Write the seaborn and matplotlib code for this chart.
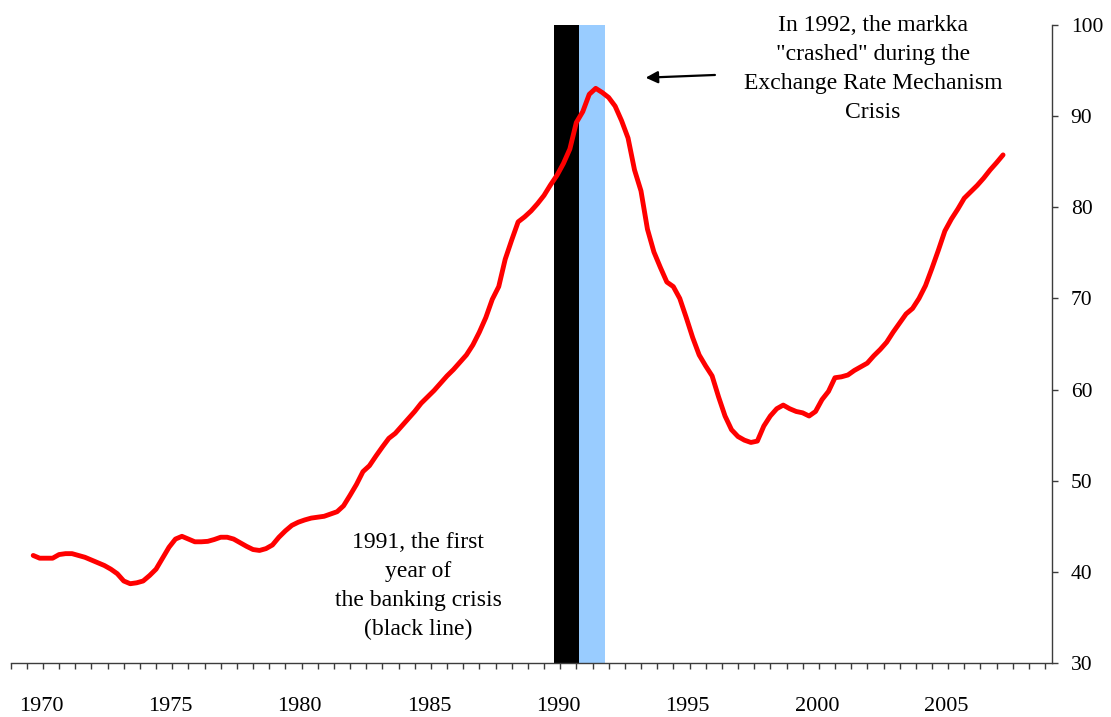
import numpy as np
import pandas as pd
import matplotlib
matplotlib.use("Agg")
import matplotlib.pyplot as plt
import seaborn as sns

# quarterly index values (first point just before the 1970 label)
first_quarter = 1969.7
index_values = [
    41.8, 41.5, 41.5, 41.5, 41.9, 42.0, 42.0, 41.8, 41.6, 41.3,
    41.0, 40.7, 40.3, 39.8, 39.0, 38.7, 38.8, 39.0, 39.6, 40.3,
    41.5, 42.7, 43.6, 43.9, 43.6, 43.3, 43.3, 43.35, 43.55, 43.8,
    43.8, 43.6, 43.2, 42.8, 42.45, 42.35, 42.55, 42.95, 43.8, 44.5,
    45.1, 45.45, 45.7, 45.9, 46.0, 46.1, 46.35, 46.6, 47.25, 48.4,
    49.6, 51.0, 51.65, 52.7, 53.7, 54.65, 55.2, 56.0, 56.8, 57.6,
    58.5, 59.2, 59.9, 60.7, 61.5, 62.2, 63.0, 63.8, 64.9, 66.3,
    67.9, 69.9, 71.3, 74.3, 76.4, 78.4, 78.95, 79.6, 80.4, 81.3,
    82.45, 83.5, 84.8, 86.4, 89.3, 90.5, 92.4, 93.05, 92.6, 92.05,
    91.1, 89.5, 87.6, 84.1, 81.8, 77.6, 75.1, 73.4, 71.8, 71.3,
    70.0, 67.9, 65.7, 63.8, 62.6, 61.5, 59.2, 57.1, 55.6, 54.85,
    54.45, 54.2, 54.35, 56.0, 57.1, 57.9, 58.3, 57.9, 57.6, 57.45,
    57.1, 57.6, 58.9, 59.8, 61.3, 61.4, 61.6, 62.1, 62.5, 62.9,
    63.7, 64.4, 65.2, 66.3, 67.3, 68.3, 68.9, 70.0, 71.4, 73.3,
    75.3, 77.4, 78.7, 79.8, 81.0, 81.7, 82.4, 83.2, 84.1, 84.9,
    85.75,
]

# shaded crisis periods (black = banking crisis, light blue = markka crash)
crisis_starts = [1989.84, 1990.81]
crisis_ends = [1990.81, 1991.80]
crisis_colors = ["#000000", "#99CCFF"]

year_labels = [1970, 1975, 1980, 1985, 1990, 1995, 2000, 2005]
y_ticks = [30, 40, 50, 60, 70, 80, 90, 100]

df = pd.DataFrame({"Value": index_values})
df["Year"] = first_quarter + 0.25 * np.arange(len(df))

sns.set_theme(style="white")
plt.rcParams["font.family"] = ["Liberation Serif", "DejaVu Serif"]

fig, ax = plt.subplots(figsize=(11.11, 7.17), dpi=100)
fig.subplots_adjust(left=0.0096, right=0.9466, bottom=0.0753, top=0.9651)

for start, end, col in zip(crisis_starts, crisis_ends, crisis_colors):
    ax.axvspan(start, end, color=col, lw=0, zorder=1)

sns.lineplot(data=df, x="Year", y="Value", color="#FF0000", linewidth=3.5,
             ax=ax, zorder=3)

ax.set_xlim(1968.828, 2009.08)
ax.set_ylim(30, 100)

# axes: only bottom and right spines, like the original Excel chart
axis_col = "#3c3c3c"
for side in ["left", "top"]:
    ax.spines[side].set_visible(False)
for side in ["bottom", "right"]:
    ax.spines[side].set_color(axis_col)
    ax.spines[side].set_linewidth(1.0)

ax.yaxis.tick_right()
ax.set_yticks(y_ticks)
ax.tick_params(axis="y", which="major", direction="out", length=4.3,
               width=1.0, color=axis_col, pad=9.4, labelsize=15.5,
               labelcolor="black")

ax.set_xticks(year_labels)
ax.set_xticklabels([str(y) for y in year_labels])
ax.set_xticks(1968.828 + 0.625 * np.arange(65), minor=True)
ax.tick_params(axis="x", which="major", length=0, pad=24.5, labelsize=16,
               labelcolor="black")
ax.tick_params(axis="x", which="minor", direction="out", length=4.3,
               width=1.0, color=axis_col, bottom=True)

ax.set_xlabel("")
ax.set_ylabel("")
ax.grid(False)

ax.text(1984.58, 44.4, "1991, the first\nyear of\nthe banking crisis\n(black line)",
        ha="center", va="top", multialignment="center", fontsize=17,
        linespacing=1.5, color="black", zorder=4)

ax.text(2002.17, 101.15,
        "In 1992, the markka\n\"crashed\" during the\nExchange Rate Mechanism\nCrisis",
        ha="center", va="top", multialignment="center", fontsize=17,
        linespacing=1.5, color="black", clip_on=False, zorder=4)

ax.annotate("", xy=(1993.38, 94.22), xytext=(1996.06, 94.52),
            arrowprops=dict(arrowstyle="-|>,head_length=0.6,head_width=0.3",
                            color="black", lw=1.6, mutation_scale=12,
                            shrinkA=0, shrinkB=0),
            zorder=4)

fig.savefig("out.png", dpi=100)
